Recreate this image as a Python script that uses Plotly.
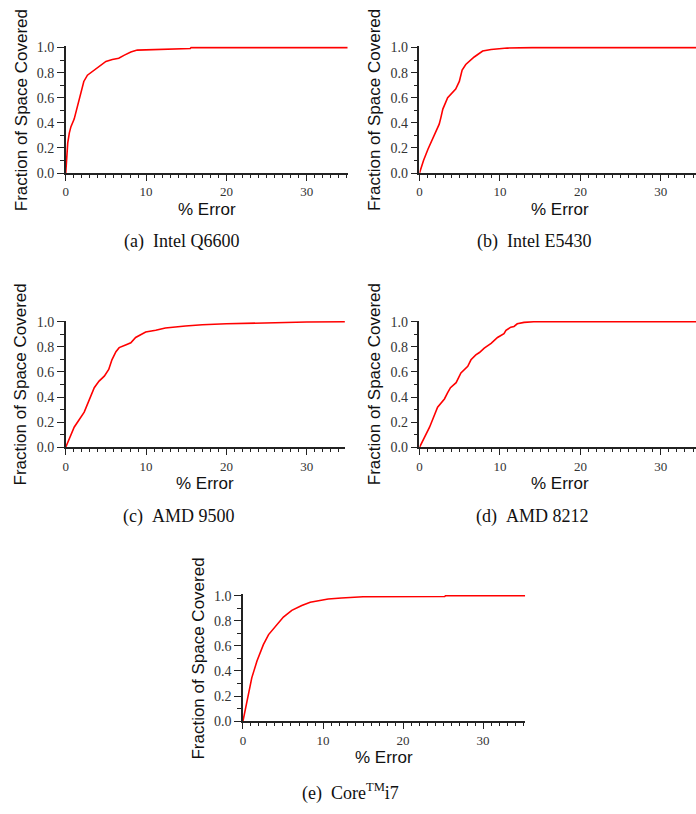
import plotly.graph_objects as go

# ---------------- data ----------------
captions = ["(a)\u00a0\u00a0Intel Q6600", "(b)\u00a0\u00a0Intel E5430", "(c)\u00a0\u00a0AMD 9500",
            "(d)\u00a0\u00a0AMD 8212", "(e)\u00a0\u00a0Core<sup>TM</sup>i7"]
x_title = "% Error"
y_title = "Fraction of Space Covered"

a_x = [0, 0.1, 0.25, 0.45, 0.65, 1.05, 1.5, 1.9, 2.25, 2.7, 3.5, 4.4, 5.0, 5.8,
       6.6, 7.3, 8.1, 8.9, 9.9, 11.0, 11.2, 15.5, 15.6, 36]
a_y = [0, 0.12, 0.24, 0.32, 0.37, 0.43, 0.54, 0.65, 0.73, 0.78, 0.82, 0.86, 0.89,
       0.905, 0.915, 0.94, 0.965, 0.98, 0.982, 0.985, 0.99, 0.993, 1.0, 1.0]

b_x = [0, 0.5, 1.05, 1.85, 2.45, 2.65, 2.9, 3.5, 4.5, 4.95, 5.3, 5.75, 6.8, 7.85,
       8.9, 10.9, 14, 36]
b_y = [0, 0.1, 0.19, 0.31, 0.39, 0.44, 0.51, 0.60, 0.67, 0.73, 0.82, 0.865, 0.925,
       0.972, 0.985, 0.996, 1.0, 1.0]

c_x = [0, 1.05, 2.3, 2.95, 3.55, 4.15, 4.8, 5.35, 5.75, 6.25, 6.65, 7.45, 8.1, 8.7,
       9.35, 9.95, 11.2, 12.4, 14.9, 17.0, 20.0, 25.5, 27.0, 30.0, 34.8]
c_y = [0, 0.16, 0.28, 0.385, 0.475, 0.527, 0.567, 0.62, 0.697, 0.762, 0.794, 0.815,
       0.833, 0.875, 0.9, 0.919, 0.932, 0.95, 0.966, 0.976, 0.984, 0.992, 0.995,
       0.998, 1.0]

d_x = [0, 1.25, 2.25, 3.1, 3.5, 3.85, 4.55, 4.85, 5.15, 6.0, 6.4, 7.0, 7.45, 8.05,
       8.9, 9.7, 10.5, 10.75, 11.35, 11.75, 12.15, 13.0, 14.2, 36]
d_y = [0, 0.16, 0.32, 0.385, 0.435, 0.475, 0.515, 0.555, 0.593, 0.645, 0.697, 0.736,
       0.755, 0.79, 0.828, 0.875, 0.905, 0.932, 0.957, 0.963, 0.984, 0.995, 1.0, 1.0]

e_x = [0, 0.5, 1.1, 1.75, 2.55, 3.2, 4.2, 5.05, 6.1, 7.35, 8.4, 9.4, 10.65, 12.3,
       14.8, 15.0, 25.2, 25.3, 36]
e_y = [0, 0.165, 0.345, 0.48, 0.61, 0.69, 0.765, 0.83, 0.883, 0.922, 0.948, 0.96,
       0.973, 0.982, 0.988, 0.992, 0.993, 1.0, 1.0]

series = [(a_x, a_y), (b_x, b_y), (c_x, c_y), (d_x, d_y), (e_x, e_y)]

# ---------------- layout geometry (pixels) ----------------
W, H = 696, 814
# (left, right, top(y=1.0), bottom(y=0), px per x-unit, caption y)
panels = [
    (63.0, 346.0, 42.3, 170.0, 8.07, 240),
    (418.3, 696.0, 42.3, 170.0, 8.08, 240),
    (63.0, 343.3, 321.3, 449.0, 8.07, 519),
    (418.3, 696.0, 321.3, 449.0, 8.08, 519),
    (241.0, 524.3, 600.0, 727.7, 8.04, 800),
]
cap_x = [179, 533, 176, 532, 349]
xtitle_x = [204.5, 559, 203, 559, 382.5]

AX_COL = "#222222"
YTICK_FONT = dict(family="Liberation Serif, Times New Roman, serif", size=14, color="#333333")
XTICK_FONT = dict(family="Liberation Serif, Times New Roman, serif", size=13, color="#333333")
TITLE_FONT = dict(family="Liberation Sans, Arial, sans-serif", size=17, color="#111111")
CAP_FONT = dict(family="Liberation Serif, Times New Roman, serif", size=18, color="#111111")

fig = go.Figure()
annotations = []
YTOP = 1.01

for i, ((xs, ys), (l, r, t, b, ppu, capy)) in enumerate(zip(series, panels)):
    n = "" if i == 0 else str(i + 1)
    xa, ya = "x" + n, "y" + n
    ppy = (b - t)  # pixels per 1.0
    top_px = b - ppy * YTOP
    xmax = (r - l) / ppu
    fig.add_trace(go.Scatter(x=xs, y=ys, mode="lines", xaxis=xa, yaxis=ya,
                             line=dict(color="#ff0000", width=1.6),
                             showlegend=False, hoverinfo="skip"))
    fig.layout["xaxis" + n] = dict(
        domain=[l / W, r / W], range=[0, xmax], anchor=ya,
        showgrid=False, zeroline=False, showline=True, linecolor=AX_COL, linewidth=1.5,
        ticks="outside", ticklen=6, tickwidth=1.2, tickcolor=AX_COL,
        tickvals=[0, 10, 20, 30], tickfont=XTICK_FONT,
        minor=dict(dtick=1, tick0=0, ticks="outside", ticklen=3, tickwidth=1, tickcolor=AX_COL),
        fixedrange=True,
    )
    fig.layout["yaxis" + n] = dict(
        domain=[1 - b / H, 1 - top_px / H], range=[0, YTOP], anchor=xa,
        showgrid=False, zeroline=False, showline=True, linecolor=AX_COL, linewidth=1.5,
        ticks="outside", ticklen=7, tickwidth=1.2, tickcolor=AX_COL,
        tickvals=[0, 0.2, 0.4, 0.6, 0.8, 1.0], tickformat=".1f", tickfont=YTICK_FONT,
        minor=dict(dtick=0.1, tick0=0, ticks="outside", ticklen=4, tickwidth=1, tickcolor=AX_COL),
        fixedrange=True,
    )
    annotations.append(dict(text=y_title, xref="paper", yref="paper",
                            x=(l - 45) / W, y=1 - ((t + b) / 2) / H, textangle=-90,
                            showarrow=False, font=TITLE_FONT, xanchor="center", yanchor="middle"))
    annotations.append(dict(text=x_title, xref="paper", yref="paper",
                            x=xtitle_x[i] / W, y=1 - (b + 37) / H,
                            showarrow=False, font=TITLE_FONT, xanchor="center", yanchor="middle"))
    annotations.append(dict(text=captions[i], xref="paper", yref="paper",
                            x=cap_x[i] / W, y=1 - capy / H, showarrow=False,
                            font=CAP_FONT, xanchor="center", yanchor="middle"))

fig.update_layout(width=W, height=H, margin=dict(l=0, r=0, t=0, b=0),
                  paper_bgcolor="white", plot_bgcolor="white",
                  annotations=annotations, showlegend=False)

fig.write_html("out.html", config={"displayModeBar": False},
               post_script="document.body.style.margin='0';document.body.style.overflow='hidden';")
